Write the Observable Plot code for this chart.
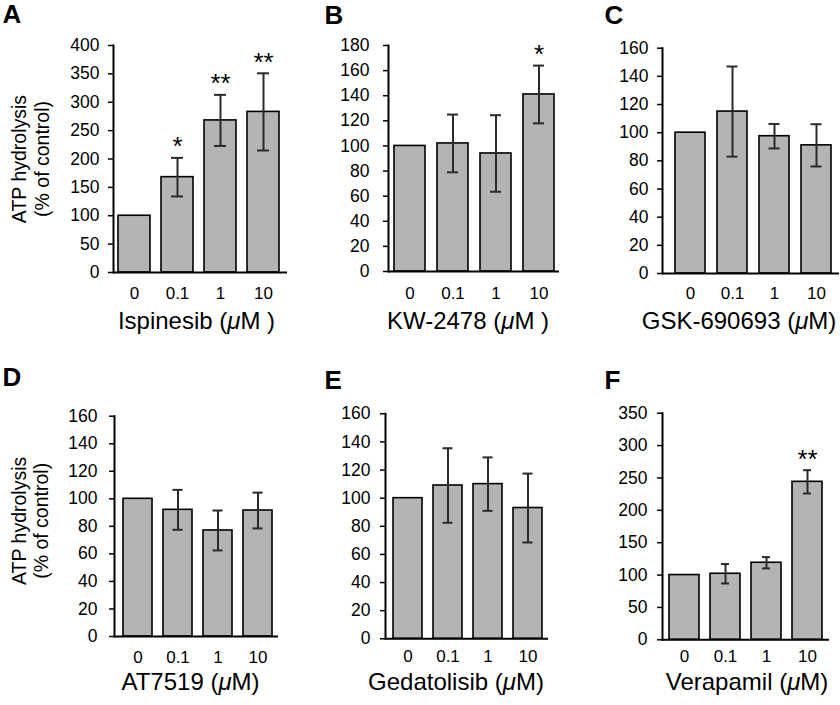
<!DOCTYPE html>
<html><head><meta charset="utf-8">
<script src="https://cdn.jsdelivr.net/npm/d3@7"></script>
<script src="https://cdn.jsdelivr.net/npm/@observablehq/plot@0.6"></script>
<style>
html,body{margin:0;padding:0;background:#fff;}
#chart{position:relative;width:840px;height:705px;overflow:hidden;font-family:"Liberation Sans",Arial,Helvetica,sans-serif;color:#000;}
#chart svg{position:absolute;overflow:visible;}
</style></head><body><div id="chart"></div>
<script>
// ---------- data ----------
const doses = ["0", "0.1", "1", "10"];
const panelLetters = ["A", "B", "C", "D", "E", "F"];
const drugTitles = ["Ispinesib (μM )", "KW-2478 (μM )", "GSK-690693 (μM)", "AT7519 (μM)", "Gedatolisib (μM)", "Verapamil (μM)"];
const yTitle = "ATP hydrolysis\n(% of control)";

const meanA = [100, 168, 268, 283];
const errA  = [0, 34, 45, 68];
const sigA  = ["", "*", "**", "**"];

const meanB = [100, 102, 94, 141];
const errB  = [0, 23, 30.5, 23];
const sigB  = ["", "", "", "*"];

const meanC = [100, 115, 97.5, 91];
const errC  = [0, 32, 8.7, 15];
const sigC  = ["", "", "", ""];

const meanD = [100, 92, 77, 91.5];
const errD  = [0, 14.5, 14.5, 13];
const sigD  = ["", "", "", ""];

const meanE = [100, 109, 110, 93];
const errE  = [0, 26.5, 19, 24.5];
const sigE  = ["", "", "", ""];

const meanF = [100, 102, 119, 244];
const errF  = [0, 15, 8.7, 18];
const sigF  = ["", "", "", "**"];

const yMaxes = [400, 180, 160, 160, 160, 350];
const ticksA = [0, 50, 100, 150, 200, 250, 300, 350, 400];
const ticksB = [0, 20, 40, 60, 80, 100, 120, 140, 160, 180];
const ticks160 = [0, 20, 40, 60, 80, 100, 120, 140, 160];
const ticksF = [0, 50, 100, 150, 200, 250, 300, 350];

const means = [meanA, meanB, meanC, meanD, meanE, meanF];
const errs = [errA, errB, errC, errD, errE, errF];
const sigs = [sigA, sigB, sigC, sigD, sigE, sigF];
const tickSets = [ticksA, ticksB, ticks160, ticks160, ticks160, ticksF];

// ---------- layout (pixels) ----------
const layout = [
  {left:0,   top:0,   w:290, h:340, ml:113, mr:3,  mt:45,   mb:68,   inL:5,  inR:8, pi:0.256, yPad:9,  xPad:14, tDx:-4,  tDy:48.5, lDx:-111, lDy:-41,  cap:10, yt:true, ytX:-83, ytY:0},
  {left:290, top:0,   w:270, h:340, ml:98,  mr:1,  mt:45,   mb:69,   inL:5,  inR:5, pi:0.284, yPad:14, xPad:15, tDx:-6,  tDy:49.5, lDx:-64,  lDy:-40,  cap:10},
  {left:560, top:0,   w:280, h:340, ml:102, mr:1,  mt:47.7, mb:67,   inL:11, inR:7, pi:0.288, yPad:9,  xPad:13, tDx:-12, tDy:47.5, lDx:-58,  lDy:-42.7,cap:9.5},
  {left:0,   top:340, w:290, h:365, ml:114, mr:12, mt:75.7, mb:69,   inL:7,  inR:5, pi:0.279, yPad:12, xPad:14, tDx:-6,  tDy:45.5, lDx:-112, lDy:-48.7,cap:9.5, yt:true, ytX:-84.5, ytY:-5.5},
  {left:290, top:340, w:270, h:365, ml:95,  mr:12, mt:73.3, mb:66.7, inL:6,  inR:5, pi:0.279, yPad:10, xPad:11.6,tDx:-11,tDy:43.2, lDx:-61,  lDy:-43.3,cap:9.5},
  {left:560, top:340, w:280, h:365, ml:102, mr:11, mt:72.7, mb:65.7, inL:6,  inR:5, pi:0.267, yPad:10, xPad:10.6,tDx:1,  tDy:42.2, lDx:-58,  lDy:-42.7,cap:11}
];

const FONT = '"Liberation Sans", Arial, Helvetica, sans-serif';
const chart = document.getElementById("chart");
const SVGNS = "http://www.w3.org/2000/svg";

function italicMu(svg) {
  svg.querySelectorAll("text").forEach(t => {
    if (t.children.length === 0 && t.textContent.includes("μ")) {
      const parts = t.textContent.split("μ");
      t.textContent = "";
      parts.forEach((p, i) => {
        if (i > 0) {
          const ts = document.createElementNS(SVGNS, "tspan");
          ts.setAttribute("font-style", "italic");
          ts.textContent = "μ";
          t.appendChild(ts);
        }
        if (p) t.appendChild(document.createTextNode(p));
      });
    }
  });
}

layout.forEach((L, k) => {
  const rows = doses.map((d, i) => ({dose: d, mean: means[k][i], err: errs[k][i], sig: sigs[k][i]}));
  const errRows = rows.filter(r => r.err > 0);
  const sigRows = rows.filter(r => r.sig);
  const marks = [
    Plot.barY(rows, {x: "dose", y: "mean", fill: "#b4b4b4", stroke: "#000", strokeWidth: 1.6}),
    Plot.ruleX(errRows, {x: "dose", y1: r => r.mean - r.err, y2: r => r.mean + r.err, stroke: "#2a2a2a", strokeWidth: 2}),
    Plot.tickY(errRows, {x: "dose", y: r => r.mean + r.err, stroke: "#2a2a2a", strokeWidth: 2, insetLeft: L.cap, insetRight: L.cap}),
    Plot.tickY(errRows, {x: "dose", y: r => r.mean - r.err, stroke: "#2a2a2a", strokeWidth: 2, insetLeft: L.cap, insetRight: L.cap}),
    Plot.ruleY([0], {stroke: "#000", strokeWidth: 2}),
    Plot.frame({anchor: "left", stroke: "#000", strokeWidth: 2}),
    Plot.axisY({ticks: tickSets[k], tickSize: 5, tickPadding: L.yPad, fontSize: 17.5, label: null, tickFormat: d => String(d), strokeWidth: 1.5}),
    Plot.axisX({tickSize: 0, tickPadding: L.xPad, fontSize: 17, label: null}),
    Plot.text(sigRows, {x: "dose", y: r => r.mean + r.err, text: "sig", fontSize: 26, dy: -11}),
    Plot.text([drugTitles[k]], {frameAnchor: "bottom", text: d => d, lineAnchor: "middle", textAnchor: "middle", fontSize: 24, dx: L.tDx, dy: L.tDy}),
    Plot.text([panelLetters[k]], {frameAnchor: "top-left", text: d => d, textAnchor: "start", lineAnchor: "top", fontSize: 26, fontWeight: "bold", dx: L.lDx, dy: L.lDy})
  ];
  if (L.yt) {
    marks.push(Plot.text([yTitle], {frameAnchor: "left", text: d => d, rotate: -90, textAnchor: "middle", lineAnchor: "middle", fontSize: 19.5, lineHeight: 1.15, dx: L.ytX, dy: L.ytY}));
  }
  const svg = Plot.plot({
    width: L.w, height: L.h,
    marginLeft: L.ml, marginRight: L.mr, marginTop: L.mt, marginBottom: L.mb,
    x: {type: "band", domain: doses, paddingInner: L.pi, paddingOuter: 0, insetLeft: L.inL, insetRight: L.inR, axis: null},
    y: {domain: [0, yMaxes[k]], axis: null},
    style: {fontFamily: FONT, background: "transparent", overflow: "visible", color: "#000"},
    marks
  });
  svg.style.left = L.left + "px";
  svg.style.top = L.top + "px";
  italicMu(svg);
  chart.appendChild(svg);
});
</script></body></html>
